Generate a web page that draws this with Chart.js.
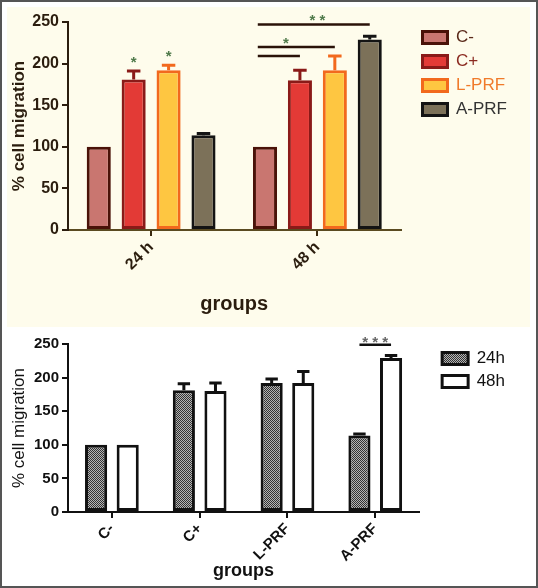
<!DOCTYPE html>
<html>
<head>
<meta charset="utf-8">
<script src="https://cdn.jsdelivr.net/npm/chart.js@4.4.1/dist/chart.umd.min.js"></script>
<style>
html, body { margin: 0; padding: 0; background: #fff; }
#frame { position: relative; width: 534px; height: 584px; border: 2px solid #555; background: #fff; }
#topPanel { position: absolute; left: 5px; top: 5px; width: 523px; height: 320px; background: #fefcec; }
#bottomPanel { position: absolute; left: 0; top: 326px; width: 534px; height: 258px; }
canvas { display: block; }
</style>
</head>
<body>
<div id="frame">
  <div id="topPanel"><canvas id="timeChart" width="523" height="320"></canvas></div>
  <div id="bottomPanel"><canvas id="groupChart" width="534" height="258"></canvas></div>
</div>
<script>
// data
const times = ['24 h', '48 h'];
const groups = ['C-', 'C+', 'L-PRF', 'A-PRF'];
const mean24 = [100, 181, 192, 114];
const mean48 = [100, 180, 192, 229];
const sem24 = [0, 10, 6, 2];
const sem48 = [0, 12, 17, 4];
const yTicks = [0, 50, 100, 150, 200, 250];

const FONT = "'Liberation Sans', Arial, sans-serif";

// top chart styles
const fills = ['#c97670', '#e33a36', '#fec641', '#7c7159'];
const borders = ['#4a1208', '#8a1a18', '#f2691d', '#141414'];
const legendText = ['#5a2a1a', '#8b2a20', '#f07a2a', '#333333'];

// error bars drawn from bar elements + y scale
const errorBars = {
    id: 'errorBars',
    afterDatasetsDraw(chart) {
        const ctx = chart.ctx;
        const y = chart.scales.y;
        chart.data.datasets.forEach((ds, i) => {
            const meta = chart.getDatasetMeta(i);
            meta.data.forEach((bar, j) => {
                const err = ds.errors[j];
                if (!err) return;
                const top = y.getPixelForValue(ds.data[j] + err);
                const half = bar.width * 0.28;
                ctx.save();
                ctx.strokeStyle = Array.isArray(ds.borderColor) ? ds.borderColor[j] : ds.borderColor;
                ctx.lineWidth = 3;
                ctx.beginPath();
                ctx.moveTo(bar.x, bar.y);
                ctx.lineTo(bar.x, top);
                ctx.moveTo(bar.x - half, top);
                ctx.lineTo(bar.x + half, top);
                ctx.stroke();
                ctx.restore();
            });
        });
    }
};

// significance brackets and asterisks
const signif = {
    id: 'signif',
    afterDraw(chart, args, opts) {
        const ctx = chart.ctx;
        const y = chart.scales.y;
        (opts.lines || []).forEach(l => {
            const a = chart.getDatasetMeta(l.from[0]).data[l.from[1]];
            const b = chart.getDatasetMeta(l.to[0]).data[l.to[1]];
            const py = y.getPixelForValue(l.y);
            const x0 = a.x - (l.startOffset || 0) * a.width;
            ctx.save();
            ctx.strokeStyle = l.color;
            ctx.lineWidth = 2.5;
            ctx.beginPath();
            ctx.moveTo(x0, py);
            ctx.lineTo(b.x, py);
            ctx.stroke();
            ctx.restore();
        });
        (opts.stars || []).forEach(s => {
            let x;
            if (s.between) {
                const a = chart.getDatasetMeta(s.between[0][0]).data[s.between[0][1]];
                const b = chart.getDatasetMeta(s.between[1][0]).data[s.between[1][1]];
                x = (a.x + b.x) / 2 + (s.dx || 0);
            } else {
                x = chart.getDatasetMeta(s.at[0]).data[s.at[1]].x;
            }
            ctx.save();
            ctx.fillStyle = s.color;
            ctx.font = 'bold 15px ' + FONT;
            ctx.textAlign = 'center';
            ctx.textBaseline = 'middle';
            ctx.fillText(s.text, x, y.getPixelForValue(s.y) + 4);
            ctx.restore();
        });
    }
};

// empty axis used only as a gap between plot and legend
function spacer(w) {
    return {
        type: 'linear', position: 'right', display: true,
        grid: { display: false }, border: { display: false }, ticks: { display: false },
        afterFit(scale) { scale.width = w; }
    };
}

// ---------- top chart: grouped by time ----------
const topDatasets = groups.map((g, k) => ({
    label: g,
    data: [mean24[k], mean48[k]],
    errors: [sem24[k], sem48[k]],
    backgroundColor: fills[k],
    borderColor: borders[k],
    borderWidth: 3,
    borderSkipped: false,
    barPercentage: 0.69,
    categoryPercentage: 0.84
}));

new Chart(document.getElementById('timeChart'), {
    type: 'bar',
    data: { labels: times, datasets: topDatasets },
    plugins: [errorBars, signif],
    options: {
        responsive: false,
        animation: false,
        layout: { padding: { top: 15, right: 13, bottom: 0, left: 0 } },
        plugins: {
            tooltip: { enabled: false },
            legend: {
                position: 'right',
                align: 'start',
                maxWidth: 200,
                labels: {
                    boxWidth: 25,
                    boxHeight: 12,
                    padding: 7,
                    font: { family: FONT, size: 17 },
                    generateLabels(chart) {
                        return chart.data.datasets.map((ds, i) => ({
                            text: ds.label,
                            fillStyle: ds.backgroundColor,
                            strokeStyle: ds.borderColor,
                            lineWidth: 3,
                            fontColor: legendText[i],
                            datasetIndex: i
                        }));
                    }
                }
            },
            signif: {
                lines: [
                    { from: [0, 1], to: [3, 1], y: 247, color: '#2a1208', startOffset: 0.3 },
                    { from: [0, 1], to: [2, 1], y: 220, color: '#2a1208', startOffset: 0.3 },
                    { from: [0, 1], to: [1, 1], y: 209, color: '#2a1208', startOffset: 0.3 }
                ],
                stars: [
                    { text: '* *', between: [[0, 1], [3, 1]], y: 256, color: '#4f7a4a' },
                    { text: '*', between: [[0, 1], [2, 1]], dx: -14, y: 228, color: '#4f7a4a' },
                    { text: '*', at: [1, 0], y: 206, color: '#4f7a4a' },
                    { text: '*', at: [2, 0], y: 213, color: '#4f7a4a' }
                ]
            }
        },
        scales: {
            x: {
                afterFit(scale) { scale.height = 97; },
                grid: { display: true, offset: false, drawOnChartArea: false, drawTicks: true, tickLength: 6, color: '#3a2a10', lineWidth: 2 },
                border: { display: true, color: '#5a4a20', width: 2 },
                ticks: {
                    minRotation: 45, maxRotation: 45, padding: 2,
                    color: '#2b1d0e',
                    font: { family: FONT, size: 16, weight: 'bold' }
                },
                title: {
                    display: true, text: 'groups', color: '#2b1d0e',
                    font: { family: FONT, size: 20, weight: 'bold' },
                    padding: { top: 13, bottom: 11 }
                }
            },
            y: {
                min: 0, max: 250,
                afterFit(scale) { scale.width = 61; },
                afterBuildTicks(scale) { scale.ticks = yTicks.map(v => ({ value: v })); },
                grid: { display: true, drawOnChartArea: false, drawTicks: true, tickLength: 6, color: '#2b1d0e', lineWidth: 2 },
                border: { display: true, color: '#2b1d0e', width: 2 },
                ticks: {
                    padding: 3,
                    color: '#2b1d0e',
                    font: { family: FONT, size: 16, weight: 'bold' }
                },
                title: {
                    display: true, text: '% cell migration', color: '#2b1d0e',
                    font: { family: FONT, size: 17, weight: 'bold' },
                    padding: { top: 2, bottom: 4 }
                }
            },
            gap: spacer(15)
        }
    }
});

// ---------- bottom chart: grouped by treatment ----------
function stipple() {
    const c = document.createElement('canvas');
    c.width = 2; c.height = 2;
    const g = c.getContext('2d');
    g.fillStyle = '#b4b4b4';
    g.fillRect(0, 0, 2, 2);
    g.fillStyle = '#333333';
    g.fillRect(0, 0, 1, 1);
    g.fillRect(1, 1, 1, 1);
    return g.createPattern(c, 'repeat');
}

new Chart(document.getElementById('groupChart'), {
    type: 'bar',
    data: {
        labels: groups,
        datasets: [{
            label: '24h',
            data: mean24,
            errors: sem24,
            backgroundColor: stipple(),
            borderColor: '#111',
            borderWidth: 3,
            borderSkipped: false,
            barPercentage: 0.7,
            categoryPercentage: 0.72
        }, {
            label: '48h',
            data: mean48,
            errors: sem48,
            backgroundColor: '#ffffff',
            borderColor: '#111',
            borderWidth: 3,
            borderSkipped: false,
            barPercentage: 0.7,
            categoryPercentage: 0.72
        }]
    },
    plugins: [errorBars, signif],
    options: {
        responsive: false,
        animation: false,
        layout: { padding: { top: 16, right: 21, bottom: 0, left: 0 } },
        plugins: {
            tooltip: { enabled: false },
            legend: {
                position: 'right',
                align: 'start',
                maxWidth: 200,
                labels: {
                    boxWidth: 26,
                    boxHeight: 12,
                    padding: 6,
                    color: '#111',
                    font: { family: FONT, size: 17 },
                    generateLabels(chart) {
                        return chart.data.datasets.map((ds, i) => ({
                            text: ds.label,
                            fillStyle: ds.backgroundColor,
                            strokeStyle: '#111',
                            lineWidth: 3,
                            fontColor: '#111',
                            datasetIndex: i
                        }));
                    }
                }
            },
            signif: {
                lines: [
                    { from: [0, 3], to: [1, 3], y: 249, color: '#111' }
                ],
                stars: [
                    { text: '* * *', between: [[0, 3], [1, 3]], y: 257, color: '#666' }
                ]
            }
        },
        scales: {
            x: {
                afterFit(scale) { scale.height = 74; },
                grid: { display: true, offset: false, drawOnChartArea: false, drawTicks: true, tickLength: 6, color: '#111', lineWidth: 2 },
                border: { display: true, color: '#111', width: 2 },
                ticks: {
                    minRotation: 45, maxRotation: 45, padding: 2,
                    color: '#111',
                    font: { family: FONT, size: 15, weight: 'bold' }
                },
                title: {
                    display: true, text: 'groups', color: '#111',
                    font: { family: FONT, size: 18, weight: 'bold' },
                    padding: { top: 4 }
                }
            },
            y: {
                min: 0, max: 250,
                afterFit(scale) { scale.width = 66; },
                afterBuildTicks(scale) { scale.ticks = yTicks.map(v => ({ value: v })); },
                grid: { display: true, drawOnChartArea: false, drawTicks: true, tickLength: 6, color: '#111', lineWidth: 2 },
                border: { display: true, color: '#111', width: 2 },
                ticks: {
                    padding: 3,
                    color: '#111',
                    font: { family: FONT, size: 15, weight: 'bold' }
                },
                title: {
                    display: true, text: '% cell migration', color: '#111',
                    font: { family: FONT, size: 17 },
                    padding: { top: 7, bottom: 4 }
                }
            },
            gap: spacer(17)
        }
    }
});
</script>
</body>
</html>
